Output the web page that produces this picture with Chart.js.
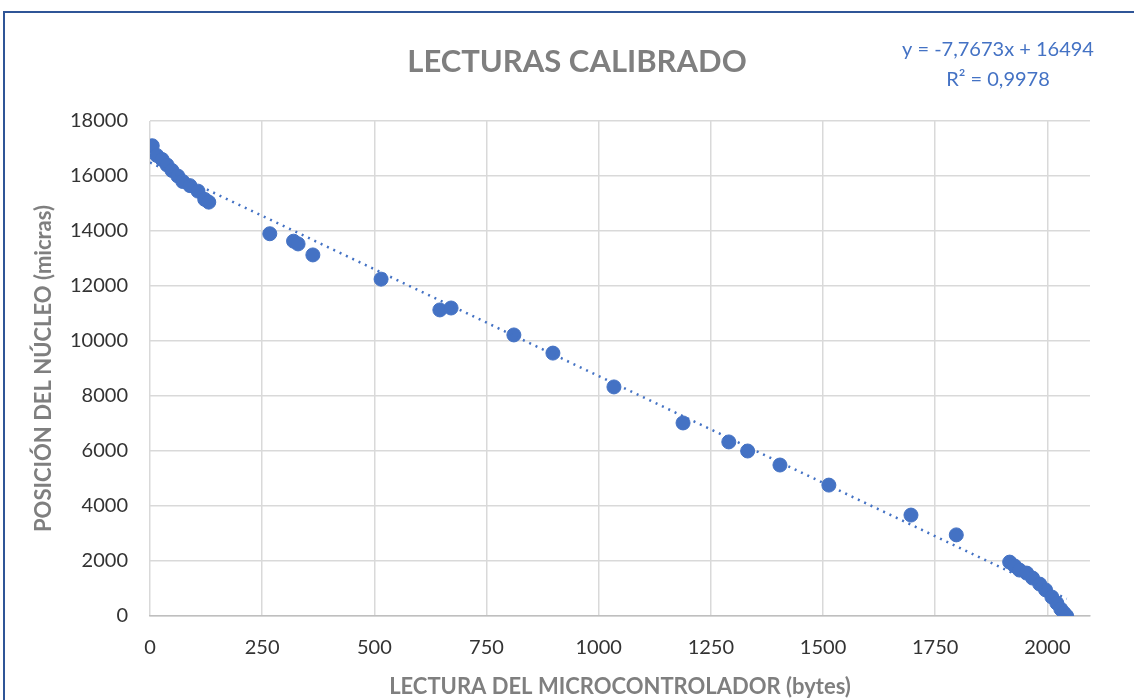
<!DOCTYPE html>
<html>
<head>
<meta charset="utf-8">
<script src="https://cdn.jsdelivr.net/npm/chart.js@4.4.0/dist/chart.umd.min.js"></script>
<style>
  html, body { margin: 0; padding: 0; background: #fff; }
  canvas { display: block; }
</style>
</head>
<body>
<canvas id="scatter" width="1134" height="700"></canvas>
<script>
// readings
const lectura = [5, 15, 27, 38, 49, 62, 73, 89, 107, 122, 131,
  267, 320, 330, 363, 515, 646, 671, 811, 898, 1034, 1188, 1290, 1332, 1404, 1513, 1696, 1797,
  1916, 1927, 1938, 1954, 1967, 1983, 1996, 2010, 2021, 2030, 2037, 2043];
const posicion = [17100, 16750, 16600, 16400, 16200, 16000, 15800, 15650, 15450, 15150, 15050,
  13900, 13630, 13530, 13130, 12250, 11130, 11200, 10220, 9560, 8330, 7020, 6330, 6000, 5490, 4760, 3670, 2950,
  1960, 1820, 1670, 1560, 1380, 1160, 950, 690, 470, 250, 110, 0];
// trendline shown in the chart
const pendiente = -7.7673;
const intercepto = 16494;
const ecuacion = ['y = -7,7673x + 16494', 'R² = 0,9978'];
const xTicks = [0, 250, 500, 750, 1000, 1250, 1500, 1750, 2000];

const azul = '#4472C4';
const gris = '#7f7f7f';
const fuente = 'Lato, "Open Sans", sans-serif';

const puntos = lectura.map((v, i) => ({ x: v, y: posicion[i] }));
const xFin = Math.max(...lectura);
const tendencia = [
  { x: 0, y: intercepto },
  { x: xFin, y: intercepto + pendiente * xFin }
];

const marco = {
  id: 'marco',
  beforeDraw(chart) {
    const c = chart.ctx;
    c.save();
    c.fillStyle = '#fff';
    c.fillRect(0, 0, chart.width, chart.height);
    c.strokeStyle = '#2F5597';
    c.lineWidth = 2;
    c.strokeRect(4, 12, chart.width + 10, chart.height + 10);
    c.restore();
  },
  afterDraw(chart) {
    const c = chart.ctx;
    c.save();
    c.textAlign = 'center';
    c.textBaseline = 'middle';
    c.fillStyle = gris;
    c.font = 'bold 31px ' + fuente;
    c.fillText('LECTURAS CALIBRADO', 577, 62);
    c.fillStyle = azul;
    c.font = '20px ' + fuente;
    c.fillText(ecuacion[0], 998, 50);
    c.fillText(ecuacion[1], 998, 80);
    c.restore();
  }
};

new Chart(document.getElementById('scatter'), {
  type: 'scatter',
  data: {
    datasets: [{
      label: 'tendencia',
      data: tendencia,
      type: 'line',
      showLine: true,
      borderColor: azul,
      borderWidth: 2.5,
      borderDash: [2, 5],
      pointRadius: 0,
      fill: false,
      order: 0
    }, {
      label: 'lecturas',
      data: puntos,
      backgroundColor: azul,
      borderColor: azul,
      pointRadius: 7,
      pointHoverRadius: 7,
      order: 1
    }]
  },
  options: {
    responsive: false,
    animation: false,
    devicePixelRatio: 1,
    layout: { padding: { left: 0, right: 44, top: 121, bottom: 0 } },
    plugins: {
      legend: { display: false },
      tooltip: { enabled: false }
    },
    scales: {
      x: {
        type: 'linear',
        min: 0,
        max: 2095,
        afterBuildTicks: axis => { axis.ticks = xTicks.map(v => ({ value: v })); },
        afterFit: scale => { scale.height = 84; },
        grid: { color: '#d9d9d9', lineWidth: 1.5, drawTicks: false },
        border: { color: '#bfbfbf', width: 1.5 },
        ticks: {
          color: '#333',
          padding: 20,
          maxRotation: 0,
          callback: v => String(v),
          font: { family: fuente, size: 20 }
        },
        title: {
          display: true,
          text: 'LECTURA DEL MICROCONTROLADOR (bytes)',
          color: gris,
          font: { family: fuente, size: 22, weight: 'bold' },
          padding: { top: 2, bottom: 0 }
        }
      },
      y: {
        min: 0,
        max: 18000,
        afterFit: scale => { scale.width = 150; },
        grid: { color: '#d9d9d9', lineWidth: 1.5, drawTicks: false },
        border: { display: false },
        ticks: {
          stepSize: 2000,
          color: '#333',
          padding: 22,
          callback: v => String(v),
          font: { family: fuente, size: 20 }
        },
        title: {
          display: true,
          text: 'POSICIÓN DEL NÚCLEO (micras)',
          color: gris,
          font: { family: fuente, size: 22, weight: 'bold' },
          padding: { top: 31, bottom: 4 }
        }
      }
    }
  },
  plugins: [marco]
});
</script>
</body>
</html>
